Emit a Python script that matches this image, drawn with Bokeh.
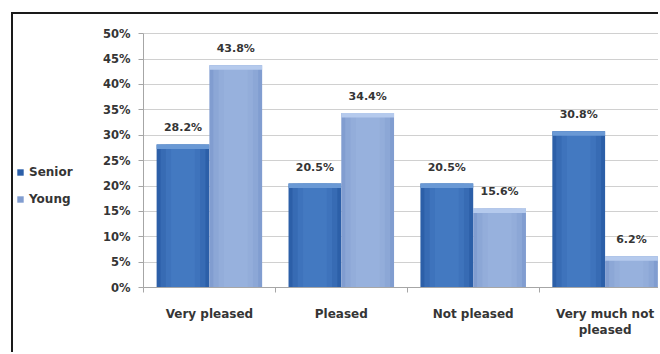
from bokeh.plotting import figure
from bokeh.models import (ColumnDataSource, Range1d, FixedTicker, PrintfTickFormatter,
                          LabelSet, Legend, LegendItem)
from bokeh.core.properties import value
from bokeh.embed import file_html
from bokeh.resources import INLINE

# Satisfaction survey: share of respondents per answer, by age group
categories = ["Very pleased", "Pleased", "Not pleased", "Very much not\npleased"]
senior = [28.2, 20.5, 20.5, 30.8]
young = [43.8, 34.4, 15.6, 6.2]
y_ticks = [0, 5, 10, 15, 20, 25, 30, 35, 40, 45, 50]

FONT = "DejaVu Sans"
TEXT = "#353535"

centers = [i + 0.5 for i in range(len(categories))]
bar_w = 0.4
X_END = 3.92       # the last group runs slightly past the right edge
X_START = -0.985   # room left of the value axis for the legend
Y_TOP = 50

src = ColumnDataSource(dict(
    xs=[c - 0.2 for c in centers], xy=[c + 0.2 for c in centers],
    senior=senior, young=young,
    senior_cap=[v - 0.9 for v in senior], young_cap=[v - 0.9 for v in young],
    senior_lbl=[f"{v:.1f}%" for v in senior], young_lbl=[f"{v:.1f}%" for v in young],
))

# the chart box sits inside a thin dark frame, offset from the page corner;
# the plotting area also holds the legend and the category labels
p = figure(width=647, height=340, output_backend="svg", toolbar_location=None,
           x_range=Range1d(X_START, X_END), y_range=Range1d(-13.15, 52),
           min_border_left=0, min_border_right=0, min_border_top=9, min_border_bottom=0)
p.styles = {"margin-left": "11px", "margin-top": "12px",
            "border-left": "2px solid #1a1a1a", "border-top": "2px solid #1a1a1a"}
p.outline_line_color = None
p.background_fill_color = "white"
p.border_fill_color = "white"

# value axis, pinned at x = 0
p.yaxis.fixed_location = 0
p.yaxis.bounds = (0, Y_TOP)
p.yaxis.ticker = FixedTicker(ticks=y_ticks)
p.yaxis.formatter = PrintfTickFormatter(format="%d%%")
p.yaxis.major_label_text_font = FONT
p.yaxis.major_label_text_font_style = "bold"
p.yaxis.major_label_text_font_size = "11.5px"
p.yaxis.major_label_text_color = TEXT
p.yaxis.axis_line_color = "#a6a6a6"
p.yaxis.major_tick_line_color = "#a6a6a6"
p.yaxis.major_tick_out = 5
p.yaxis.major_tick_in = 0
p.yaxis.minor_tick_line_color = None
p.yaxis.major_label_standoff = 8

# category axis, pinned at y = 0
p.xaxis.fixed_location = 0
p.xaxis.bounds = (0, X_END)
p.xaxis.ticker = FixedTicker(ticks=centers, minor_ticks=[0, 1, 2, 3, 4])
p.xaxis.major_label_overrides = {c: lab for c, lab in zip(centers, categories)}
p.xaxis.major_label_text_font = FONT
p.xaxis.major_label_text_font_style = "bold"
p.xaxis.major_label_text_font_size = "12px"
p.xaxis.major_label_text_color = TEXT
p.xaxis.axis_line_color = "#a6a6a6"
p.xaxis.major_tick_line_color = None
p.xaxis.minor_tick_line_color = "#a6a6a6"
p.xaxis.minor_tick_out = 5
p.xaxis.minor_tick_in = 0
p.xaxis.major_label_standoff = 13

p.xgrid.grid_line_color = None
ygrid = p.ygrid[0]
if "cross_bounds" in ygrid.properties():
    ygrid.cross_bounds = (0, X_END)
    ygrid.grid_line_color = "#d0d0d0"
else:
    ygrid.grid_line_color = None
    p.segment(x0=0, x1=X_END, y0=y_ticks, y1=y_ticks, line_color="#d0d0d0", line_width=1)

# Senior bars: body, soft sheen layers, light top edge
r_senior = p.vbar(x="xs", top="senior", width=bar_w, source=src,
                  fill_color="#2c5fa8", line_color=None)
for frac, alpha in [(0.85, 0.35), (0.65, 0.35), (0.45, 0.35)]:
    p.vbar(x="xs", top="senior", width=bar_w * frac, source=src,
           fill_color="#4d84cb", fill_alpha=alpha, line_color=None)
p.vbar(x="xs", bottom="senior_cap", top="senior", width=bar_w, source=src,
       fill_color="#6a99d5", line_color=None)

# Young bars
r_young = p.vbar(x="xy", top="young", width=bar_w, source=src,
                 fill_color="#819dd0", line_color=None)
for frac, alpha in [(0.85, 0.35), (0.65, 0.35), (0.45, 0.35)]:
    p.vbar(x="xy", top="young", width=bar_w * frac, source=src,
           fill_color="#a0b9e3", fill_alpha=alpha, line_color=None)
p.vbar(x="xy", bottom="young_cap", top="young", width=bar_w, source=src,
       fill_color="#b5caed", line_color=None)

# value labels above each bar
for xcol, ycol, tcol in [("xs", "senior", "senior_lbl"), ("xy", "young", "young_lbl")]:
    p.add_layout(LabelSet(x=xcol, y=ycol, text=tcol, source=src, y_offset=10,
                          text_align="center", text_baseline="bottom",
                          text_font=value(FONT), text_font_style="bold",
                          text_font_size="11px", text_color=TEXT))

legend = Legend(items=[LegendItem(label="Senior", renderers=[r_senior]),
                       LegendItem(label="Young", renderers=[r_young])],
                location=(3, 148), padding=0, margin=0, spacing=13,
                glyph_width=8, glyph_height=8, label_height=14, label_standoff=5,
                border_line_color=None, background_fill_alpha=0,
                label_text_font=FONT, label_text_font_style="bold",
                label_text_font_size="12px", label_text_color=TEXT)
p.add_layout(legend, "center")

open("out.html", "w").write(file_html(p, INLINE))
